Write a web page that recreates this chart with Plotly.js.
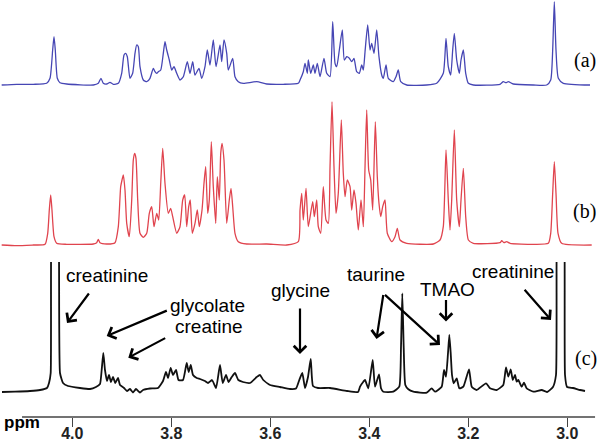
<!DOCTYPE html>
<html>
<head>
<meta charset="utf-8">
<script src="https://cdn.plot.ly/plotly-3.0.1.min.js"></script>
<style>
html,body{margin:0;padding:0;background:#fff;}
#chart{width:601px;height:443px;}
</style>
</head>
<body>
<div id="chart"></div>
<script>
// ---- Data (chemical shift in ppm, relative intensity) ----
// Spectrum (a) - blue
const ppmA = [4.1427,4.1124,4.0788,4.0518,4.0451,4.0397,4.0370,4.0344,4.0303,4.0249,4.0114,3.9576,3.9475,3.9421,3.9374,3.9306,3.9239,3.9172,3.9071,3.9003,3.8956,3.8922,3.8889,3.8835,3.8781,3.8734,3.8700,3.8667,3.8633,3.8566,3.8497,3.8431,3.8364,3.8330,3.8295,3.8263,3.8214,3.8162,3.8128,3.8093,3.8041,3.7992,3.7946,3.7891,3.7825,3.7758,3.7677,3.7623,3.7568,3.7522,3.7441,3.7386,3.7320,3.7273,3.7219,3.7152,3.7097,3.7017,3.6983,3.6936,3.6881,3.6849,3.6760,3.6714,3.6647,3.6546,3.6275,3.6073,3.5738,3.5435,3.5400,3.5334,3.5299,3.5253,3.5233,3.5184,3.5132,3.5097,3.5051,3.4996,3.4916,3.4861,3.4794,3.4740,3.4693,3.4659,3.4606,3.4546,3.4505,3.4457,3.4404,3.4356,3.4310,3.4255,3.4202,3.4154,3.4121,3.4087,3.4033,3.3986,3.3952,3.3905,3.3851,3.3805,3.3750,3.3718,3.3663,3.3617,3.3516,3.3461,3.3415,3.3366,3.3245,3.2841,3.2639,3.2506,3.2451,3.2405,3.2356,3.2316,3.2283,3.2235,3.2182,3.2148,3.2101,3.2053,3.1999,3.1899,3.1360,3.1294,3.1239,3.1192,3.1092,3.0687,3.0417,3.0336,3.0296,3.0263,3.0229,3.0182,3.0081,2.9542];
const intA = [0,0.7,0.7,1.7,6.7,35,48.3,35,6.7,2.3,1,0,1.7,6.7,1.7,1,2.7,0.7,1.7,11.7,30,31.7,28.3,6.7,11.7,31.7,40,38.3,18.3,5,3.3,6.7,16.7,13.3,11.7,13.3,15,31.7,43.3,35,25,15,18.3,11.7,5,8.3,23.3,11.7,23.3,10,16.7,6.7,18.3,35,20,45,18.3,40,23.3,45,31.7,15,26.7,8.3,3.3,1.7,3.3,1,0.7,1.7,5,13.3,21.7,11.7,25,11.7,20,11.7,21.7,8.3,26.7,11.7,8.3,63.3,21.7,18.3,35,55,25,28.3,26.7,23.3,26.7,13.3,11.7,20,15,33.3,60,35,41.7,31.7,55,28.3,10,6.7,20,6.7,3.3,8.3,15,3.3,0,0,1.7,11.7,46.7,18.3,10,35,51.7,25,11.7,25,35,11.7,1.7,0,0.7,3.3,2.3,3.3,1,0,0,5,35,83.3,35,6.7,1.7,0];

// Spectrum (b) - red
const ppmB = [4.1427,4.1124,4.0788,4.0552,4.0497,4.0465,4.0437,4.0411,4.0370,4.0316,4.0114,3.9576,3.9508,3.9475,3.9441,3.9306,3.9138,3.9071,3.9023,3.8996,3.8970,3.8936,3.8901,3.8849,3.8800,3.8768,3.8740,3.8714,3.8679,3.8633,3.8566,3.8497,3.8445,3.8396,3.8350,3.8295,3.8255,3.8214,3.8174,3.8128,3.8061,3.8013,3.7972,3.7891,3.7825,3.7770,3.7730,3.7689,3.7649,3.7617,3.7576,3.7522,3.7475,3.7435,3.7380,3.7340,3.7306,3.7265,3.7233,3.7192,3.7152,3.7103,3.7071,3.7031,3.7002,3.6976,3.6936,3.6881,3.6829,3.6794,3.6760,3.6714,3.6647,3.6477,3.6073,3.5669,3.5435,3.5400,3.5366,3.5334,3.5279,3.5233,3.5144,3.5111,3.5063,3.5031,3.4982,3.4930,3.4875,3.4828,3.4794,3.4754,3.4714,3.4673,3.4627,3.4566,3.4526,3.4491,3.4445,3.4390,3.4356,3.4310,3.4269,3.4223,3.4168,3.4121,3.4087,3.4053,3.4013,3.3972,3.3932,3.3879,3.3839,3.3805,3.3770,3.3730,3.3683,3.3637,3.3548,3.3481,3.3435,3.3380,3.3245,3.2708,3.2572,3.2506,3.2451,3.2405,3.2370,3.2336,3.2283,3.2235,3.2182,3.2148,3.2101,3.2053,3.1999,3.1899,3.1360,3.1326,3.1279,3.1225,3.1158,3.0687,3.0384,3.0336,3.0296,3.0263,3.0229,3.0188,3.0114,2.9508];
const intB = [0,-0.7,0,0.7,11.7,35,50,35,8.3,1.7,0.7,1,2.3,5.7,2.3,1,2.3,18.3,58.3,65,70,55,21.7,8.3,45,85,91.7,86.7,45,11.7,7.7,11.7,31.7,38.3,18.3,31.7,25,61.7,96.7,61.7,31.7,36.7,28.3,11.7,18.3,45,50,18.3,38.3,45,11.7,21.7,35,18.3,35,61.7,78.3,31.7,45,103.3,58.3,21.7,68.3,45,91.7,101.7,85,21.7,45,56.7,38.3,11.7,3.3,1,1,0,3.3,35,51.7,25,56.7,18.3,43.3,28.3,45,18.3,11.7,58.3,25,21.7,78.3,143.3,78.3,31.7,51.7,125,71.7,48.3,65,58.3,35,55,41.7,15,45,18.3,78.3,135,75,65,35,123.3,68.3,41.7,28.3,38.3,45,11.7,3.3,8.3,16.7,5,1.7,1,5,18.3,95,45,15,45,115,45,18.3,45,76.7,28.3,5,1.7,2.3,4.3,2.3,3.3,1.7,0.7,1.7,11.7,51.7,83.3,51.7,11.7,1.7,0];

// Spectrum (c) - black
const ppmC = [4.1421,4.1158,4.0855,4.0653,4.0512,4.0471,4.0437,4.0384,4.0316,4.0249,4.0188,4.0087,3.9845,3.9643,3.9522,3.9441,3.9407,3.9374,3.9340,3.9299,3.9259,3.9219,3.9178,3.9132,3.9077,3.9037,3.8956,3.8895,3.8835,3.8774,3.8714,3.8633,3.8572,3.8431,3.8269,3.8168,3.8108,3.8067,3.8013,3.7966,3.7905,3.7855,3.7764,3.7689,3.7649,3.7608,3.7562,3.7487,3.7420,3.7320,3.7259,3.7178,3.7097,3.7017,3.6962,3.6895,3.6845,3.6780,3.6714,3.6647,3.6552,3.6411,3.6275,3.6209,3.6142,3.6006,3.5804,3.5603,3.5481,3.5415,3.5354,3.5299,3.5239,3.5184,3.5138,3.5037,3.4794,3.4451,3.4229,3.4188,3.4121,3.4087,3.4020,3.3932,3.3885,3.3805,3.3764,3.3718,3.3516,3.3395,3.3360,3.3334,3.3306,3.3273,3.3212,3.3111,3.2841,3.2740,3.2673,3.2538,3.2491,3.2451,3.2411,3.2384,3.2356,3.2330,3.2295,3.2235,3.2182,3.2101,3.1986,3.1932,3.1831,3.1643,3.1562,3.1427,3.1294,3.1239,3.1192,3.1144,3.1103,3.1057,3.1023,3.0990,3.0922,3.0875,3.0821,3.0687,3.0518,3.0411,3.0290,3.0229,3.0174,3.0101,3.0047,3.0006,2.9885,2.9744,2.9643];
const intC = [-2,-1.7,-1,0,2,7,17,240,240,17,7,4,2,1,3,6,20,37,20,9,15,8,13,7,12,5,2,-1,1,-2.5,1,-2.5,0,1.5,2,9,18,12,22,15,20,10,10,27,18,25,15,12,11,9,7,10,2,25,7,15,8,13,17,10,8,7,13,15,10,5,3,1,1.5,10,17,2,13,31,4,2,2,-1,-2,3.3,8.3,10,1.7,30,3.3,15.7,1.7,-1.7,-1.7,3.3,43.3,96.7,43.3,5,0.7,-1.7,-2.7,1.7,-1.7,3.3,20,13.3,36.7,55,36.7,15,6.7,11.7,1.7,3.3,20.7,3.3,0,6.7,1.7,0,5,22.7,13.3,20.7,10,15,8.3,10,3.3,7.3,1.7,-1.7,0,-2,3,15,240,240,15,3,2,0,-1];

// Axis ticks
const tickVals = [4.0, 3.8, 3.6, 3.4, 3.2, 3.0];
const tickText = ['4.0', '3.8', '3.6', '3.4', '3.2', '3.0'];

// Spectrum labels and assignments
const spectrumLabels = ['(a)', '(b)', '(c)'];
const compoundLabels = ['creatinine', 'glycolate', 'creatine', 'glycine', 'taurine', 'TMAO', 'creatinine'];

// ---- Layout helpers (pixel positions in the 601x417 plot area) ----
const W = 601, H = 417;
const px = x => x / W;
const py = y => (H - y) / H;
const dom = (top, bot) => [py(bot), py(top)];

const sans = 'Liberation Sans, Arial, Helvetica, sans-serif';
const serif = 'Liberation Serif, Times New Roman, serif';

const traces = [
  {x: ppmA, y: intA, xaxis: 'x', yaxis: 'y3', type: 'scatter', mode: 'lines',
   line: {color: '#4646b4', width: 1.3, shape: 'spline', smoothing: 0.55}, hoverinfo: 'skip'},
  {x: ppmB, y: intB, xaxis: 'x', yaxis: 'y2', type: 'scatter', mode: 'lines',
   line: {color: '#e0444e', width: 1.3, shape: 'spline', smoothing: 0.55}, hoverinfo: 'skip'},
  {x: ppmC, y: intC, xaxis: 'x', yaxis: 'y', type: 'scatter', mode: 'lines',
   line: {color: '#111111', width: 1.8, shape: 'spline', smoothing: 0.45}, hoverinfo: 'skip'}
];

const textAnn = (t, x, y, font) => ({
  text: t, xref: 'paper', yref: 'paper', x: px(x), y: py(y),
  xanchor: 'center', yanchor: 'middle', showarrow: false, font: font
});
const arrowAnn = (tx, ty, hx, hy) => ({
  text: '', xref: 'paper', yref: 'paper', x: px(hx), y: py(hy),
  ax: tx - hx, ay: ty - hy, showarrow: true, arrowhead: 4, arrowsize: 1.1,
  arrowwidth: 2.2, arrowcolor: '#000', standoff: 0, startstandoff: 0
});

const fLab = {family: sans, size: 19, color: '#000'};
const fSer = {family: serif, size: 20, color: '#000'};

const annotations = [
  textAnn(compoundLabels[0], 107, 275.5, fLab),
  textAnn(compoundLabels[1], 207.5, 305.5, fLab),
  textAnn(compoundLabels[2], 208.5, 326, fLab),
  textAnn(compoundLabels[3], 300, 290, fLab),
  textAnn(compoundLabels[4], 376, 274.5, fLab),
  textAnn(compoundLabels[5], 447.5, 289.5, fLab),
  textAnn(compoundLabels[6], 513, 271, fLab),
  arrowAnn(90, 292, 67, 323),
  arrowAnn(168.3, 310, 106.7, 336),
  arrowAnn(166.7, 337.3, 128.3, 357.7),
  arrowAnn(300, 307, 300, 354),
  arrowAnn(383.5, 293.5, 376.5, 339),
  arrowAnn(383.5, 293.5, 440, 345),
  arrowAnn(446, 298.5, 446, 321.5),
  arrowAnn(523.3, 288.3, 551, 320),
  textAnn(spectrumLabels[0], 585, 60, fSer),
  textAnn(spectrumLabels[1], 584, 212, fSer),
  textAnn(spectrumLabels[2], 586, 358, fSer),
  textAnn('ppm', 21.7, 423, {family: sans, size: 17, color: '#000', weight: 'bold'})
];

const layout = {
  width: 601, height: 443,
  margin: {l: 0, r: 0, t: 0, b: 26, pad: 0},
  paper_bgcolor: '#ffffff', plot_bgcolor: '#ffffff',
  showlegend: false,
  xaxis: {
    domain: [0, 1], range: [4.1461, 2.9320], anchor: 'y',
    showline: false, showgrid: false, zeroline: false,
    ticks: 'outside', ticklen: 9, tickwidth: 1.3, tickcolor: '#444',
    ticklabelstandoff: -7,
    tickmode: 'array', tickvals: tickVals, ticktext: tickText,
    tickfont: {family: sans, size: 16, color: '#222', weight: 'bold'}
  },
  yaxis:  {domain: dom(262, 417), range: [-27, 128], visible: false, showgrid: false, zeroline: false},
  yaxis2: {domain: dom(97, 255),  range: [-10, 148], visible: false, showgrid: false, zeroline: false},
  yaxis3: {domain: dom(0, 95),    range: [-10, 85],  visible: false, showgrid: false, zeroline: false},
  shapes: [{type: 'line', xref: 'x', yref: 'paper', x0: 4.1016, x1: 2.944, y0: 0, y1: 0,
            line: {color: '#444', width: 1.5}}],
  annotations: annotations
};

Plotly.newPlot('chart', traces, layout, {displayModeBar: false, staticPlot: true});
</script>
</body>
</html>
